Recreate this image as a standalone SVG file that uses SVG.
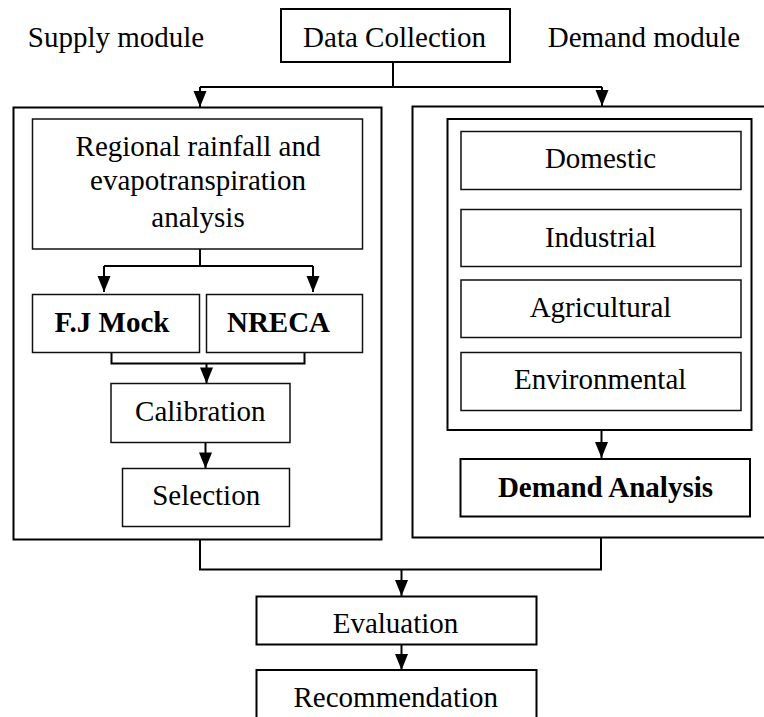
<svg xmlns="http://www.w3.org/2000/svg" width="764" height="717" viewBox="0 0 764 717">
  <defs>
    <marker id="arrow" markerUnits="userSpaceOnUse" markerWidth="18" markerHeight="14" viewBox="0 0 18 14" refX="17" refY="7" orient="auto">
      <path d="M1,0.5 L17,7 L1,13.5 Z" fill="#000"/>
    </marker>
    <style>
      text { font-family: "Liberation Serif", "Times New Roman", serif; font-size: 29px; fill: #000; text-anchor: middle; }
      .bold { font-weight: bold; }
      .box { fill: #fff; stroke: #000; stroke-width: 2; }
      .thin { fill: #fff; stroke: #111; stroke-width: 1.5; }
      .frame { fill: none; stroke: #000; stroke-width: 2; }
      .link { fill: none; stroke: #000; stroke-width: 2; }
      .arrow { fill: none; stroke: #000; stroke-width: 2; marker-end: url(#arrow); }
    </style>
  </defs>
  <rect width="764" height="717" fill="#fff"/>

  <!-- module captions -->
  <text x="116" y="47">Supply module</text>
  <text x="644" y="47">Demand module</text>

  <!-- module frames -->
  <g id="supply-module">
    <rect class="frame" x="13.5" y="107.5" width="368" height="432"/>
  </g>
  <g id="demand-module">
    <rect class="frame" x="412.5" y="106.5" width="360" height="431"/>
  </g>

  <!-- connectors -->
  <g id="connectors">
    <path class="link" d="M393,62 V87 M200,87 H602"/>
    <path class="arrow" d="M200,87 V107"/>
    <path class="arrow" d="M602,87 V106"/>
    <path class="link" d="M200,249 V266 M104,266 H313"/>
    <path class="arrow" d="M104,266 V292"/>
    <path class="arrow" d="M313,266 V292"/>
    <path class="link" d="M111.5,352.5 V363.5 H304.5 V352.5"/>
    <path class="arrow" d="M206.5,363.5 V383.5"/>
    <path class="arrow" d="M205.5,442.5 V468.5"/>
    <path class="arrow" d="M601.5,430 V458"/>
    <path class="link" d="M200,539.5 V569.5 H601 V537.5"/>
    <path class="arrow" d="M401.5,569.5 V596"/>
    <path class="arrow" d="M401.5,644.5 V670"/>
  </g>

  <g id="data-collection">
    <rect class="box" x="281" y="9" width="229" height="53"/>
    <text x="394.5" y="47">Data Collection</text>
  </g>

  <!-- supply side -->
  <g id="rainfall-analysis">
    <rect class="thin" x="32.5" y="119" width="330" height="130"/>
    <text x="198" y="155.7">Regional rainfall and</text>
    <text x="198" y="190">evapotranspiration</text>
    <text x="198" y="226.7">analysis</text>
  </g>
  <g id="fj-mock">
    <rect class="thin" x="32.5" y="294.5" width="167" height="58"/>
    <text class="bold" x="112" y="331.7">F.J Mock</text>
  </g>
  <g id="nreca">
    <rect class="thin" x="206.5" y="294.5" width="156" height="58"/>
    <text class="bold" x="278.5" y="331.7">NRECA</text>
  </g>
  <g id="calibration">
    <rect class="thin" x="111" y="383.5" width="179" height="59"/>
    <text x="200.3" y="420.7">Calibration</text>
  </g>
  <g id="selection">
    <rect class="thin" x="122.5" y="468.5" width="167" height="58"/>
    <text x="206.2" y="505">Selection</text>
  </g>

  <!-- demand side -->
  <g id="demand-sectors">
    <rect class="box" x="447.5" y="119" width="304" height="311"/>
  </g>
  <g id="domestic">
    <rect class="thin" x="461" y="131.5" width="280" height="58"/>
    <text x="600.5" y="168.3">Domestic</text>
  </g>
  <g id="industrial">
    <rect class="thin" x="461" y="209.5" width="280" height="57"/>
    <text x="600.5" y="246.7">Industrial</text>
  </g>
  <g id="agricultural">
    <rect class="thin" x="461" y="280" width="280" height="57.5"/>
    <text x="600.5" y="316.7">Agricultural</text>
  </g>
  <g id="environmental">
    <rect class="thin" x="461" y="352.5" width="280" height="58"/>
    <text x="600.2" y="389.3">Environmental</text>
  </g>
  <g id="demand-analysis">
    <rect class="box" x="460.5" y="459" width="289.5" height="57.5"/>
    <text class="bold" x="605.5" y="497.3">Demand Analysis</text>
  </g>

  <!-- joint steps -->
  <g id="evaluation">
    <rect class="box" x="256.5" y="596.5" width="280" height="48"/>
    <text x="395.5" y="633.3">Evaluation</text>
  </g>
  <g id="recommendation">
    <rect class="box" x="256.5" y="670" width="280" height="60"/>
    <text x="395.8" y="706.7">Recommendation</text>
  </g>
</svg>
